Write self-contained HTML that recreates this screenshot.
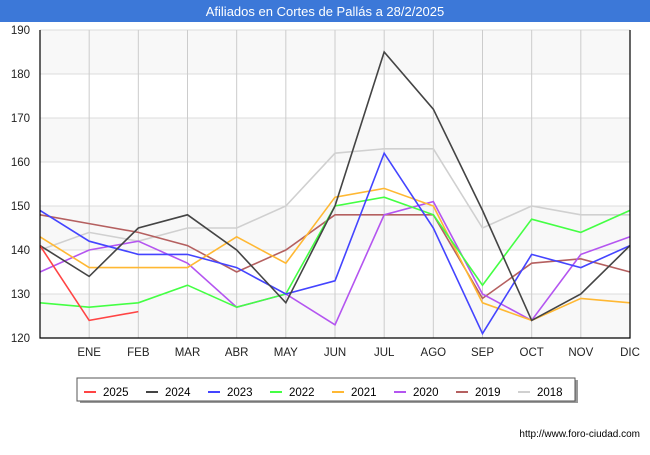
<!DOCTYPE html>
<html><head><meta charset="utf-8"><style>
body{margin:0;background:#fff;font-family:"Liberation Sans",sans-serif}
svg text{font-family:"Liberation Sans",sans-serif}
</style></head><body>
<svg id="c" width="650" height="450" xmlns="http://www.w3.org/2000/svg">
<rect x="0" y="0" width="650" height="22" fill="#3c78d8"/>
<text x="325" y="16" text-anchor="middle" fill="#fff" font-size="13">Afiliados en Cortes de Pallás a 28/2/2025</text>
<g id="plot"></g>
<text x="640" y="437" text-anchor="end" font-size="10" fill="#000">http://www.foro-ciudad.com</text>
</svg>
<script>
const months=["","ENE","FEB","MAR","ABR","MAY","JUN","JUL","AGO","SEP","OCT","NOV","DIC"];
const yTicks=[120,130,140,150,160,170,180,190];
const seriesNames=["2025","2024","2023","2022","2021","2020","2019","2018"];
const colors=["#ff4444","#444444","#4444ff","#44ff44","#ffb833","#b455f0","#b56060","#d0d0d0"];
const s2025=[141,124,126];
const s2024=[141,134,145,148,140,128,150,185,172,149,124,130,141];
const s2023=[149,142,139,139,136,130,133,162,145,121,139,136,141];
const s2022=[128,127,128,132,127,130,150,152,148,132,147,144,149];
const s2021=[143,136,136,136,143,137,152,154,150,128,124,129,128];
const s2020=[135,140,142,137,127,130,123,148,151,130,124,139,143];
const s2019=[148,146,144,141,135,140,148,148,148,129,137,138,135];
const s2018=[140,144,142,145,145,150,162,163,163,145,150,148,148];
const allSeries=[s2025,s2024,s2023,s2022,s2021,s2020,s2019,s2018];
const NS="http://www.w3.org/2000/svg";
const L=40,R=630,T=30,B=338;
const x=i=>L+i*(R-L)/12;
const y=v=>B-(v-120)*(B-T)/70;
const g=document.getElementById('plot');
function mk(t,a){const e=document.createElementNS(NS,t);for(const k in a)e.setAttribute(k,a[k]);g.appendChild(e);return e;}
for(let i=0;i<yTicks.length-1;i++){
 const r=mk('rect',{x:L,y:y(yTicks[i+1]),width:R-L,height:y(yTicks[i])-y(yTicks[i+1]),fill:i%2==0?'#f8f8f8':'#ffffff'});
 
 
}
yTicks.forEach(v=>{
 const l=mk('line',{x1:L,x2:R,y1:y(v),y2:y(v),stroke:'#dddddd'});
 
 
 const t=mk('text',{x:L-10,y:y(v)+4,'text-anchor':'end','font-size':'11.5',fill:'#222'});
 t.textContent=v;
 
 
});
months.forEach((m,i)=>{
 if(i>0){const l=mk('line',{x1:x(i),x2:x(i),y1:T,y2:B,stroke:'#cccccc'});
 
 }
 const t=mk('text',{x:x(i),y:B+18,'text-anchor':'middle','font-size':'11.5',fill:'#222'});
 t.textContent=m;
 
 
});
for(let k=allSeries.length-1;k>=0;k--){
 const pts=allSeries[k].map((v,i)=>x(i)+','+y(v)).join(' ');
 const p=mk('polyline',{points:pts,fill:'none',stroke:colors[k],'stroke-width':1.6});
 
 
}
const ax=mk('path',{d:`M${L},${T}V${B}H${R}V${T}`,fill:'none',stroke:'#000','stroke-width':1.2});


const sh=mk('rect',{x:80,y:380,width:498,height:23,fill:'#999'});


const lb=mk('rect',{x:77,y:378,width:498,height:23,fill:'#fff',stroke:'#555'});


seriesNames.forEach((n,k)=>{
 const lx=84+k*62;
 const l=mk('line',{x1:lx,x2:lx+12,y1:392,y2:392,stroke:colors[k],'stroke-width':2});
 
 
 const t=mk('text',{x:lx+19,y:396,'font-size':'11.5',fill:'#000'});
 t.textContent=n;
 
 
});
</script>
</body></html>
